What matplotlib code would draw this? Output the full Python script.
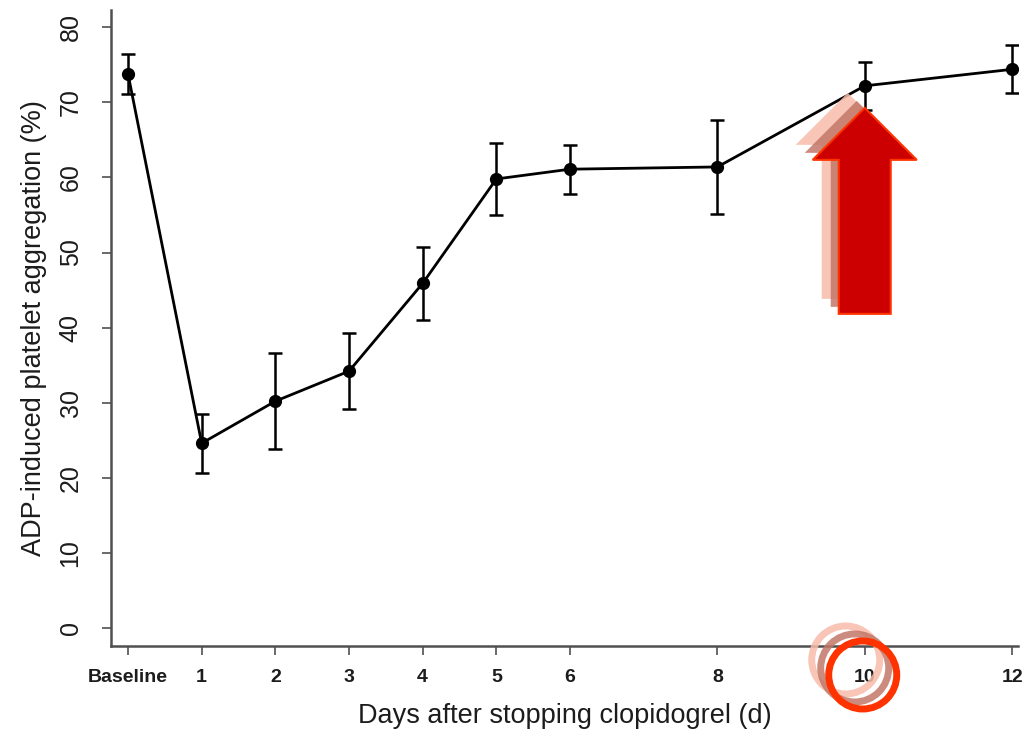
import matplotlib
matplotlib.use('Agg')
import matplotlib.pyplot as plt
from matplotlib.patches import Polygon, Circle
from matplotlib.transforms import IdentityTransform

plt.rcParams['font.family'] = ['Liberation Sans', 'DejaVu Sans']

# platelet aggregation after stopping clopidogrel (mean +/- error)
days = [0, 1, 2, 3, 4, 5, 6, 8, 10, 12]
day_labels = ['Baseline', '1', '2', '3', '4', '5', '6', '8', '10', '12']
aggregation = [73.8, 24.6, 30.2, 34.2, 45.9, 59.8, 61.1, 61.4, 72.2, 74.4]
aggregation_err = [2.7, 3.9, 6.4, 5.1, 4.85, 4.75, 3.25, 6.25, 3.2, 3.2]
y_ticks = [0, 10, 20, 30, 40, 50, 60, 70, 80]
highlight_day = 10

TEXT = '#1c1c1c'
AXIS = '#505050'
RED = '#cc0000'
EDGE = '#ff3300'
GHOSTS = [('#f7bba9', -17, 15), ('#c27767', -8, 7)]


def arrow_points(tip_x, tip_y):
    """up arrow polygon in pixel coords, tip at (tip_x, tip_y)"""
    head_w, head_l, shaft_w, total = 52, 52, 26, 206
    return [(tip_x, tip_y),
            (tip_x + head_w, tip_y - head_l),
            (tip_x + shaft_w, tip_y - head_l),
            (tip_x + shaft_w, tip_y - total),
            (tip_x - shaft_w, tip_y - total),
            (tip_x - shaft_w, tip_y - head_l),
            (tip_x - head_w, tip_y - head_l)]


def main():
    fig = plt.figure(figsize=(10.32, 7.36), dpi=100)
    ax = fig.add_axes([0.1076, 0.1223, 0.8788, 0.8641])

    ax.errorbar(days, aggregation, yerr=aggregation_err, color='black',
                lw=2.0, marker='o', markersize=8.5, capsize=5,
                capthick=1.8, elinewidth=1.8, zorder=3)

    ax.set_xlim(-0.23, 12.08)
    ax.set_ylim(-2.4, 82.3)
    ax.set_xticks(days)
    ax.set_xticklabels(day_labels, fontsize=14, fontweight='bold', color=TEXT)
    ax.set_yticks(y_ticks)
    ax.set_yticklabels([str(v) for v in y_ticks], fontsize=18, color=TEXT,
                       rotation=90, va='center')
    ax.tick_params(axis='x', length=6.5, width=1.2, color=AXIS, pad=10)
    ax.tick_params(axis='y', length=6.5, width=1.2, color=AXIS, pad=14)

    for side in ['top', 'right']:
        ax.spines[side].set_visible(False)
    for side in ['left', 'bottom']:
        ax.spines[side].set_color(AXIS)
        ax.spines[side].set_linewidth(1.8)

    ax.set_xlabel('Days after stopping clopidogrel (d)', fontsize=19.5,
                  color=TEXT, labelpad=12)
    ax.set_ylabel('ADP-induced platelet aggregation (%)', fontsize=19.5,
                  color=TEXT, labelpad=8)

    # arrow pointing at the day-10 value and ring around its tick label
    idx = days.index(highlight_day)
    px, py = ax.transData.transform((highlight_day, aggregation[idx]))
    tip_y = py - 22
    ring_y = ax.transAxes.transform((0, 0))[1] - 29
    ring_x = px - 2

    for color, dx, dy in GHOSTS:
        fig.patches.append(Polygon(arrow_points(px + dx, tip_y + dy),
                                   closed=True, facecolor=color, edgecolor='none',
                                   alpha=0.85, transform=IdentityTransform(),
                                   figure=fig, zorder=5))
        fig.patches.append(Circle((ring_x + dx, ring_y + dy), 34, fill=False,
                                  edgecolor=color, lw=5, alpha=0.85,
                                  transform=IdentityTransform(), figure=fig,
                                  zorder=5))

    fig.patches.append(Polygon(arrow_points(px, tip_y), closed=True,
                               facecolor=RED, edgecolor=EDGE, lw=1.5,
                               transform=IdentityTransform(), figure=fig,
                               zorder=6))
    fig.patches.append(Circle((ring_x, ring_y), 34, fill=False, edgecolor=EDGE,
                              lw=5, transform=IdentityTransform(), figure=fig,
                              zorder=6))

    fig.savefig('out.png', dpi=100)


if __name__ == '__main__':
    main()
